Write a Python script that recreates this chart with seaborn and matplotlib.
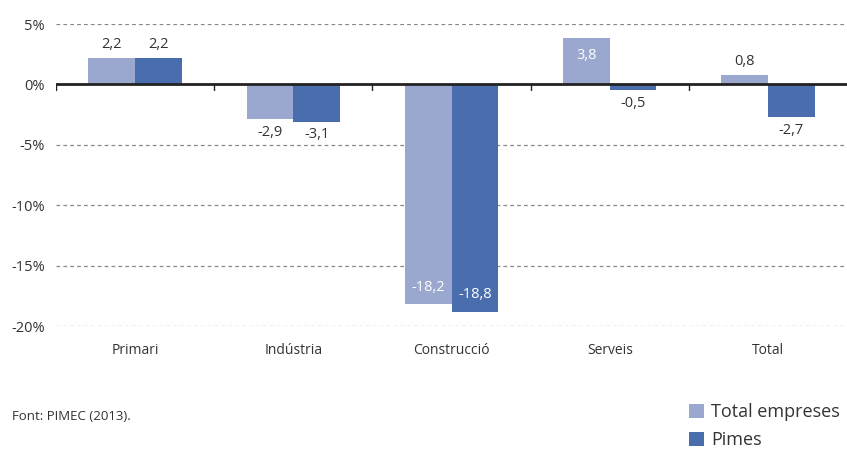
import matplotlib
matplotlib.use('Agg')
import matplotlib.pyplot as plt
import seaborn as sns
import pandas as pd

# data
sectors = ["Primari", "Indústria", "Construcció", "Serveis", "Total"]
total_empreses = [2.2, -2.9, -18.2, 3.8, 0.8]
pimes = [2.2, -3.1, -18.8, -0.5, -2.7]
series_names = ["Total empreses", "Pimes"]
y_ticks = [5, 0, -5, -10, -15, -20]
source = "Font: PIMEC (2013)."

LIGHT = "#9aa8cf"
DARK = "#4a6dae"
TXT = "#333333"

df = pd.DataFrame({
    "Sector": sectors * 2,
    "Valor": total_empreses + pimes,
    "Serie": [series_names[0]] * len(sectors) + [series_names[1]] * len(sectors),
})

sns.set_theme(style="white")
plt.rcParams['font.family'] = ['Open Sans', 'DejaVu Sans']

fig = plt.figure(figsize=(8.47, 4.51), dpi=100)
ax = fig.add_axes([56 / 847, 1 - 326 / 451, 1 - 56 / 847, (326 - 24) / 451])

sns.barplot(data=df, x="Sector", y="Valor", hue="Serie", order=sectors,
            hue_order=series_names, palette=[LIGHT, DARK], width=0.59,
            gap=0, saturation=1, errorbar=None, ax=ax, legend=True,
            linewidth=0, edgecolor="none")

ax.set_ylim(-20, 5)
ax.set_xlim(-0.5, len(sectors) - 0.5)
ax.set_yticks(y_ticks)
ax.set_yticklabels([f"{t}%" for t in y_ticks], color=TXT, fontsize=10.5)
ax.set_xlabel("")
ax.set_ylabel("")
ax.tick_params(axis='x', length=0, pad=12, labelsize=10, labelcolor=TXT)
ax.tick_params(axis='y', length=0, pad=8)

for s in ax.spines.values():
    s.set_visible(False)

# dashed grid
for t in y_ticks:
    if t != 0:
        ax.axhline(t, color="#888888", lw=0.9, ls=(0, (3, 2.5)), zorder=0)
ax.axhline(0, color="#222222", lw=2, zorder=3)

# small ticks at category boundaries on zero line
for b in range(len(sectors)):
    ax.plot([b - 0.5, b - 0.5], [0, -0.45], color="#222222", lw=1, zorder=3)

# value labels
for cont, vals in zip(ax.containers, [total_empreses, pimes]):
    for p, v in zip(cont.patches, vals):
        x = p.get_x() + p.get_width() / 2
        lab = f"{v:.1f}".replace(".", ",")
        if abs(v) > 3.5:
            off = -17 if v > 0 else 17
            col = "white"
        else:
            off = 13 if v >= 0 else -13
            col = TXT
        ax.annotate(lab, (x, v), xytext=(0, off), textcoords="offset pixels",
                    ha="center", va="center", fontsize=10.5, color=col, zorder=5)

handles, labels = ax.get_legend_handles_labels()
ax.get_legend().remove()
fig.legend(handles, labels, loc="upper left", bbox_to_anchor=(682 / 847, 1 - 396 / 451),
           frameon=False, fontsize=13, handlelength=0.8, handleheight=0.8,
           handletextpad=0.4, labelspacing=0.55, labelcolor=TXT,
           borderaxespad=0)

fig.text(12 / 847, 1 - 417 / 451, source, fontsize=9.5, color=TXT, va="center", ha="left")

fig.savefig("out.png", dpi=100)
plt.close(fig)
